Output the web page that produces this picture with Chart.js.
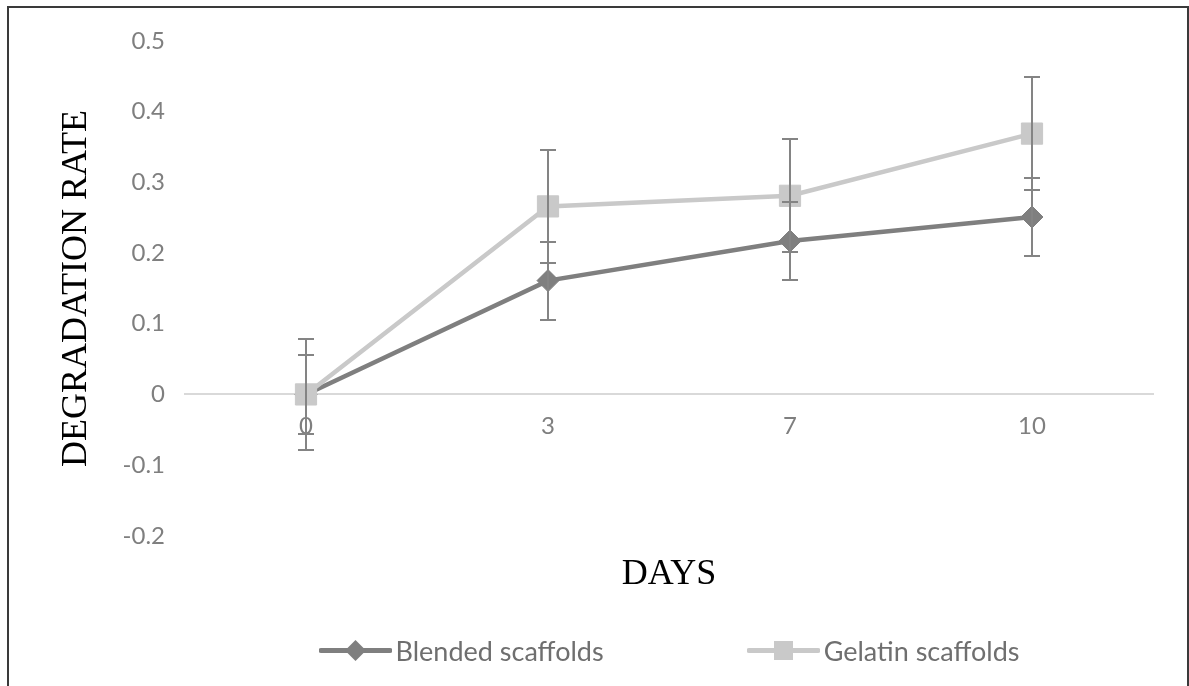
<!DOCTYPE html>
<html>
<head>
<meta charset="utf-8">
<script src="https://cdn.jsdelivr.net/npm/chart.js@4.4.1/dist/chart.umd.min.js"></script>
<style>
    html, body { margin: 0; padding: 0; background: #fff; }
    #wrap { position: relative; width: 1189px; height: 686px; overflow: hidden; }
    #frame {
        position: absolute; left: 7px; top: 6px; width: 1182px; height: 720px;
        border: 2px solid #3a3a3a; border-bottom: none; box-sizing: border-box;
        pointer-events: none;
    }
    #legend {
        position: absolute; left: 185px; width: 968px; top: 634px;
        display: flex; justify-content: center; gap: 143px;
        font-family: Lato, sans-serif; font-size: 27px; color: #6f6f6f;
    }
    .item { display: flex; align-items: center; }
    .item svg { margin-right: 4px; }
</style>
</head>
<body>
<div id="wrap">
    <canvas id="chart" width="1189" height="686"></canvas>
    <div id="frame"></div>
    <div id="legend"></div>
</div>
<script>
// chart data
const days = ['0', '3', '7', '10'];
const blended = [0, 0.161, 0.217, 0.251];
const blendedErr = [0.056, 0.055, 0.055, 0.055];
const gelatin = [0, 0.266, 0.281, 0.369];
const gelatinErr = [0.079, 0.08, 0.08, 0.08];
const yTicks = [-0.2, -0.1, 0, 0.1, 0.2, 0.3, 0.4, 0.5];

const tickFont = { family: 'Lato', size: 24 };
const serifFont = { family: 'Liberation Serif', size: 36, weight: 'normal' };

// vertical error bars with caps, drawn over the markers
const errorBars = {
    id: 'errorBars',
    afterDatasetsDraw(chart) {
        const ctx = chart.ctx;
        const y = chart.scales.y;
        ctx.save();
        ctx.strokeStyle = '#848484';
        ctx.lineWidth = 2;
        chart.data.datasets.forEach((ds, i) => {
            const meta = chart.getDatasetMeta(i);
            meta.data.forEach((pt, j) => {
                const v = ds.data[j], e = ds.errors[j];
                const top = Math.round(y.getPixelForValue(v + e));
                const bot = Math.round(y.getPixelForValue(v - e));
                const x = Math.round(pt.x);
                ctx.beginPath();
                ctx.moveTo(x, top); ctx.lineTo(x, bot);
                ctx.moveTo(x - 8, top); ctx.lineTo(x + 8, top);
                ctx.moveTo(x - 8, bot); ctx.lineTo(x + 8, bot);
                ctx.stroke();
            });
        });
        ctx.restore();
    }
};

const chart = new Chart(document.getElementById('chart'), {
    type: 'line',
    data: {
        labels: days,
        datasets: [{
            label: 'Blended scaffolds',
            data: blended,
            errors: blendedErr,
            borderColor: '#7f7f7f',
            backgroundColor: '#7f7f7f',
            borderWidth: 4.5,
            pointStyle: 'rectRot',
            pointRadius: 11,
            pointBorderWidth: 1,
            tension: 0,
            order: 1
        }, {
            label: 'Gelatin scaffolds',
            data: gelatin,
            errors: gelatinErr,
            borderColor: '#c9c9c9',
            backgroundColor: '#c9c9c9',
            borderWidth: 4.5,
            pointStyle: 'rect',
            pointRadius: 15,
            pointBorderWidth: 1,
            tension: 0,
            order: 0
        }]
    },
    options: {
        responsive: false,
        animation: false,
        layout: { padding: { left: 20, right: 36, top: 41, bottom: 90 } },
        plugins: {
            legend: { display: false },
            tooltip: { enabled: false }
        },
        scales: {
            x: {
                type: 'category',
                offset: true,
                position: { y: 0 },
                grid: { display: false, drawTicks: false },
                border: { display: true, color: '#d9d9d9', width: 2 },
                ticks: { padding: 17, color: '#7f7f7f', font: tickFont }
            },
            // bottom axis only carries the "DAYS" title, centred on the plot
            x2: {
                type: 'category',
                axis: 'x',
                position: 'bottom',
                grid: { display: false, drawTicks: false },
                border: { display: false },
                ticks: { display: false },
                title: {
                    display: true,
                    text: 'DAYS',
                    color: '#000',
                    font: serifFont,
                    padding: { top: 17, bottom: 0 }
                }
            },
            y: {
                min: -0.2,
                max: 0.5,
                afterBuildTicks: s => { s.ticks = yTicks.map(v => ({ value: v })); },
                afterFit: s => { s.width = 165; },
                grid: { display: false, drawTicks: false },
                border: { display: false },
                ticks: {
                    padding: 20,
                    color: '#7f7f7f',
                    font: tickFont,
                    callback: v => String(Math.round(v * 10) / 10)
                },
                title: {
                    display: true,
                    text: 'DEGRADATION RATE',
                    color: '#000',
                    font: serifFont,
                    padding: { top: 35, bottom: 0 }
                }
            }
        }
    },
    plugins: [errorBars]
});

// html legend: line with the series marker, then the label
function buildLegend(chart) {
    const box = document.getElementById('legend');
    box.innerHTML = '';
    chart.data.datasets.forEach(ds => {
        const item = document.createElement('div');
        item.className = 'item';
        const c = ds.borderColor;
        const mark = ds.pointStyle === 'rect'
            ? `<rect x="27" y="4" width="19" height="19" fill="${c}"/>`
            : `<polygon points="36.5,3 47,13.5 36.5,24 26,13.5" fill="${c}"/>`;
        item.innerHTML = `<svg width="73" height="27"><line x1="2" y1="13.5" x2="71" y2="13.5" stroke="${c}" stroke-width="5" stroke-linecap="round"/>${mark}</svg><span>${ds.label}</span>`;
        box.appendChild(item);
    });
}
buildLegend(chart);
</script>
</body>
</html>
